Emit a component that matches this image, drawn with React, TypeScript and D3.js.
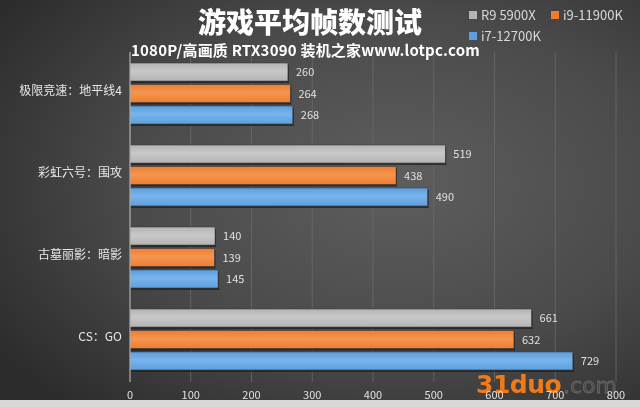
import React from 'react'
import * as d3 from 'd3'

const games = ['极限竞速：地平线4', '彩虹六号：围攻', '古墓丽影：暗影', 'CS：GO']
const seriesNames = ['R9 5900X', 'i9-11900K', 'i7-12700K']
const r9Values = [260, 519, 140, 661]
const i9Values = [264, 438, 139, 632]
const i7Values = [268, 490, 145, 729]
const xTicks = [0, 100, 200, 300, 400, 500, 600, 700, 800]

const W = 640
const H = 407
const colors = ['#b4b4b4', '#ef7d31', '#5c9fe0']
const lightColors = ['#c8c8c8', '#f5954f', '#79b4ec']

export default function App() {
  const x = d3.scaleLinear().domain([0, 800]).range([130, 616])
  const y = d3.scaleBand<string>().domain(games).range([52, 380])
  const inner = d3.scaleBand<number>().domain([0, 1, 2]).range([11, y.bandwidth() - 10]).paddingInner(0.16)
  const values = [r9Values, i9Values, i7Values]

  return (
    <svg width={W} height={H} style={{ position: 'fixed', left: 0, top: 0, fontFamily: '"Noto Sans CJK SC", "Noto Sans", sans-serif' }}>
      <defs>
        <radialGradient id="bg" cx="62%" cy="45%" r="75%">
          <stop offset="0%" stopColor="#5e5e5e" />
          <stop offset="55%" stopColor="#4a4a4a" />
          <stop offset="100%" stopColor="#2c2c2c" />
        </radialGradient>
        {colors.map((c, i) => (
          <linearGradient key={i} id={`bar${i}`} x1="0" x2="0" y1="0" y2="1">
            <stop offset="0%" stopColor={c} />
            <stop offset="45%" stopColor={lightColors[i]} />
            <stop offset="100%" stopColor={c} />
          </linearGradient>
        ))}
      </defs>
      <rect width={W} height={H} fill="url(#bg)" />
      <rect y={400} width={W} height={7} fill="#d8d8d8" />

      {/* grid */}
      {xTicks.slice(1).map(t => (
        <line key={t} x1={x(t)} x2={x(t)} y1={52} y2={382} stroke="#6a6a6a" strokeWidth={0.8} />
      ))}

      {/* watermark */}
      <text x={476} y={393} fontSize={25} fontWeight="bold" fill="#f07a18" fontFamily="'DejaVu Sans', sans-serif" letterSpacing={-0.5}>31duo</text>
      <text x={563} y={393} fontSize={22} fill="#474747" stroke="#6a6a6a" strokeWidth={0.8} fontFamily="'DejaVu Sans', sans-serif">.com</text>

      {/* bars */}
      {games.map((g, gi) => (
        <g key={g} transform={`translate(0,${y(g)})`}>
          {values.map((vals, si) => {
            const by = inner(si) as number
            const bh = inner.bandwidth()
            const bw = x(vals[gi]) - x(0)
            return (
              <g key={si}>
                <rect x={x(0) + 1} y={by + 2} width={bw} height={bh} fill="#1c1c1c" opacity={0.7} />
                <rect x={x(0)} y={by} width={bw} height={bh} fill={`url(#bar${si})`} stroke="#3a3a3a" strokeWidth={0.6} />
                <text x={x(vals[gi]) + 8} y={by + bh / 2 + 4} fontSize={11} fill="#e0e0e0">{vals[gi]}</text>
              </g>
            )
          })}
          <text x={122} y={y.bandwidth() / 2 + 2} fontSize={12} fill="#e6e6e6" textAnchor="end">{g}</text>
        </g>
      ))}

      {/* axis */}
      <line x1={x(0)} x2={x(0)} y1={52} y2={382} stroke="#c8c8c8" strokeWidth={1} />
      {xTicks.map(t => (
        <text key={t} x={x(t)} y={399} fontSize={11} fill="#e0e0e0" textAnchor="middle">{t}</text>
      ))}

      {/* titles */}
      <text x={310} y={33} fontSize={28} fontWeight="900" fill="#ffffff" textAnchor="middle">游戏平均帧数测试</text>
      <text x={131} y={56} fontSize={15} fontWeight="bold" fill="#ffffff" letterSpacing={0.2}>1080P/高画质 RTX3090 装机之家www.lotpc.com</text>

      {/* legend */}
      {seriesNames.map((s, i) => {
        const lx = i === 1 ? 551 : 469
        const ly = i === 2 ? 37 : 16
        return (
          <g key={s}>
            <rect x={lx} y={ly - 5} width={8} height={8} fill={colors[i]} />
            <text x={lx + 12} y={ly + 4} fontSize={13} fill="#d8d8d8">{s}</text>
          </g>
        )
      })}
    </svg>
  )
}
